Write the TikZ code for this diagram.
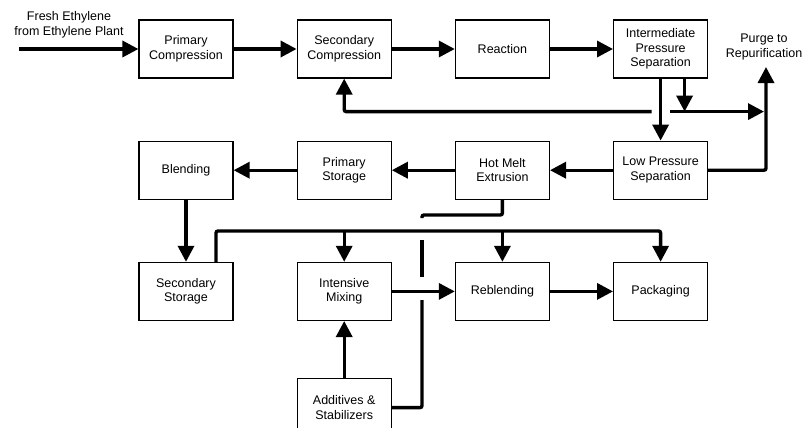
\documentclass[tikz,border=0pt]{standalone}
\usepackage{fontspec}
\setmainfont{Liberation Sans}
\usetikzlibrary{arrows.meta,positioning,calc}

\begin{document}
\begin{tikzpicture}[
    x=1pt, y=-1pt,
    node distance=62pt and 63pt,
    box/.style={rectangle, draw, line width=1.2pt, minimum width=94pt, minimum height=58pt, align=center, inner sep=2pt, font=\fontsize{12.5}{14.5}\selectfont},
    label/.style={align=center, font=\fontsize{12.5}{14.5}\selectfont},
    pipe/.style={line width=3.4pt, rounded corners=2pt},
    arrow/.style={pipe, -{Triangle[length=16pt,width=16pt]}}
]
    \useasboundingbox (0,0) rectangle (808,428);

    % polymerisation line
    \node[box] (pcomp) at (186,49) {Primary\\Compression};
    \node[box, right=of pcomp] (scomp) {Secondary\\Compression};
    \node[box, right=of scomp] (react) {Reaction};
    \node[box, right=of react] (ips) {Intermediate\\Pressure\\Separation};
    \node[box, below=of ips] (lps) {Low Pressure\\Separation};
    \node[box, left=of lps] (hme) {Hot Melt\\Extrusion};
    \node[box, left=of hme] (pstor) {Primary\\Storage};
    \node[box, left=of pstor] (blend) {Blending};
    \node[box, below=of blend] (sstor) {Secondary\\Storage};
    \node[box, right=of sstor] (imix) {Intensive\\Mixing};
    \node[box, right=of imix] (reblend) {Reblending};
    \node[box, right=of reblend] (pack) {Packaging};
    \node[box, below=57pt of imix] (add) {Additives \&\\Stabilizers};

    \node[label] (feedtxt) at (69,25) {Fresh Ethylene\\from Ethylene Plant};
    \node[label] (purgetxt) at (764,47) {Purge to\\Repurification};

    \coordinate[left=119pt of pcomp.west] (feed);
    \coordinate (tee) at ($(ips.south)+(24,33)$);
    \coordinate (purge) at (766,67);
    \coordinate (bus) at (216,231);
    \coordinate (kink) at (422,215);

    \draw[arrow] (feed) -- (pcomp);
    \draw[arrow] (pcomp) -- (scomp);
    \draw[arrow] (scomp) -- (react);
    \draw[arrow] (react) -- (ips);
    \draw[arrow] (ips.south) -- (lps.north);
    \draw[arrow] ($(ips.south)+(24,0)$) -- (tee);
    \draw[arrow, shorten >=2pt] (tee) -- (tee -| purge);
    \draw[pipe] (tee) -- ++(-15,0);
    \draw[arrow] ($(tee)+(-33,0)$) -| (scomp.south);
    \draw[arrow] (lps.east) -| (purge);

    \draw[arrow] (lps) -- (hme);
    \draw[arrow] (hme) -- (pstor);
    \draw[arrow] (pstor) -- (blend);
    \draw[arrow] (blend) -- (sstor);

    % distribution header
    \draw[arrow] (sstor.north -| bus) -- (bus) -| (pack.north);
    \draw[arrow] (imix.north |- bus) -- (imix.north);
    \draw[arrow] (reblend.north |- bus) -- (reblend.north);

    \draw[arrow] (imix) -- (reblend);
    \draw[arrow] (reblend) -- (pack);
    \draw[arrow] (add) -- (imix);

    % broken line crossing the header
    \draw[pipe] (hme.south) |- (kink) -- ++(0,3);
    \draw[pipe] (422,240) -- (422,277);
    \draw[pipe] (422,300) |- (add.east);
\end{tikzpicture}
\end{document}
